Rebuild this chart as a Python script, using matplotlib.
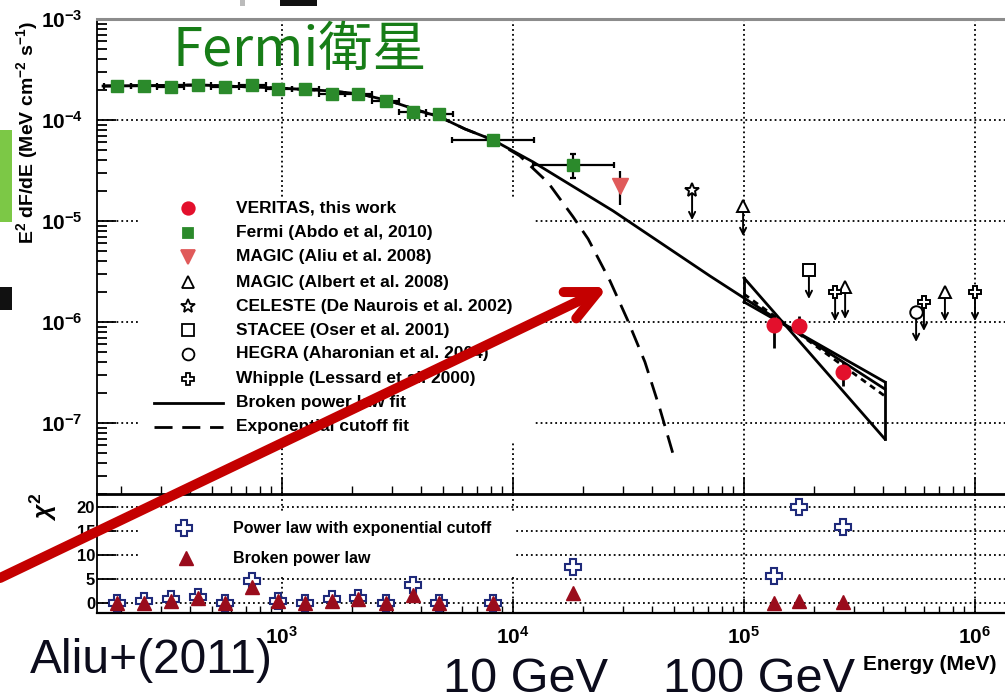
import matplotlib
matplotlib.use('Agg')
import matplotlib.pyplot as plt
from matplotlib.patches import Rectangle, FancyArrowPatch, ArrowStyle
from matplotlib.ticker import LogLocator, NullFormatter, FixedLocator, FixedFormatter

plt.rcParams['font.family'] = ['Liberation Sans', 'DejaVu Sans']
plt.rcParams['font.weight'] = 'bold'
plt.rcParams['mathtext.fontset'] = 'custom'
plt.rcParams['mathtext.rm'] = 'Liberation Sans:bold'
plt.rcParams['mathtext.it'] = 'Liberation Sans:italic:bold'
plt.rcParams['mathtext.bf'] = 'Liberation Sans:bold'

# ---------------- data ----------------
fermi_E = [193, 253, 330, 433, 566, 741, 961, 1259, 1645, 2133, 2818, 3690, 4786, 8190, 18200]
fermi_F = [2.16e-4, 2.16e-4, 2.14e-4, 2.24e-4, 2.12e-4, 2.24e-4, 2.01e-4, 2.03e-4, 1.82e-4, 1.82e-4,
           1.55e-4, 1.19e-4, 1.15e-4, 6.34e-5, 3.58e-5]
fermi_Elo = [169, 221, 289, 378, 495, 649, 849, 1102, 1439, 1875, 2455, 3221, 4207, 5445, 12220]
fermi_Ehi = [221, 289, 378, 495, 649, 849, 1102, 1439, 1875, 2455, 3221, 4207, 5483, 12330, 27350]
fermi_Flo = [2.10e-4, 2.10e-4, 2.08e-4, 2.17e-4, 2.05e-4, 2.17e-4, 1.95e-4, 1.96e-4, 1.76e-4, 1.75e-4,
             1.48e-4, 1.12e-4, 1.08e-4, 5.8e-5, 2.67e-5]
fermi_Fhi = [2.22e-4, 2.22e-4, 2.20e-4, 2.31e-4, 2.19e-4, 2.31e-4, 2.07e-4, 2.10e-4, 1.88e-4, 1.89e-4,
             1.62e-4, 1.26e-4, 1.22e-4, 6.9e-5, 4.6e-5]

ver_E = [1.35e5, 1.73e5, 2.69e5]
ver_F = [9.33e-7, 9.12e-7, 3.20e-7]
ver_Flo = [5.53e-7, 7.9e-7, 2.32e-7]
ver_Fhi = [1.0e-6, 1.15e-6, 4.0e-7]

magic08_E = [29000]
magic08_F = [2.22e-5]
magic08_Flo = [1.44e-5]
magic08_Fhi = [3.13e-5]

celeste_E = [59600]
celeste_F = [2.03e-5]
celeste_Fend = [1.02e-5]

albert_E = [99100, 2.74e5, 7.41e5]
albert_F = [1.41e-5, 2.22e-6, 1.98e-6]
albert_Fend = [7.1e-6, 1.07e-6, 1.02e-6]

stacee_E = [1.91e5]
stacee_F = [3.27e-6]
stacee_Fend = [1.69e-6]

hegra_E = [5.56e5]
hegra_F = [1.26e-6]
hegra_Fend = [6.34e-7]

whipple_E = [2.48e5, 6.01e5, 1.0e6]
whipple_F = [1.98e-6, 1.59e-6, 1.98e-6]
whipple_Fend = [1.02e-6, 8.15e-7, 1.02e-6]

bpl_E = [168, 442, 980, 1615, 2178, 2940, 3954, 4830, 6194, 8190, 12220, 27100, 71300, 4.07e5]
bpl_F = [2.17e-4, 2.22e-4, 2.07e-4, 1.94e-4, 1.81e-4, 1.54e-4, 1.23e-4, 1.07e-4, 8.15e-5, 6.34e-5,
         3.84e-5, 1.26e-5, 2.85e-6, 2.17e-7]

ecpl_E = [168, 442, 980, 1615, 2178, 2940, 3954, 4830, 6194, 8190, 10700, 14190, 18200, 21150, 26300,
          31200, 37250, 43250, 49300]
ecpl_F = [2.17e-4, 2.22e-4, 2.07e-4, 1.94e-4, 1.81e-4, 1.54e-4, 1.23e-4, 1.07e-4, 8.15e-5, 6.34e-5,
          4.41e-5, 2.4e-5, 1.10e-5, 6.64e-6, 2.55e-6, 1.07e-6, 4.02e-7, 1.38e-7, 4.93e-8]

ver_fit_E = [1.0e5, 4.07e5]
ver_fit_F = [1.89e-6, 1.85e-7]
bowtie_A = [2.73e-6, 6.95e-8]
bowtie_B = [1.58e-6, 2.55e-7]

chi_E = fermi_E + ver_E
chi_ecpl = [0.1, 0.5, 0.8, 1.2, 0.1, 4.6, 0.5, 0.1, 0.8, 1.0, 0.1, 3.7, 0.1, 0.1, 7.4, 5.6, 19.9, 15.8]
chi_bpl = [0.0, 0.0, 0.5, 1.0, 0.0, 3.3, 0.5, 0.0, 0.5, 0.8, 0.0, 1.7, 0.1, 0.0, 2.0, 0.0, 0.5, 0.3]

legend_labels = ["VERITAS, this work", "Fermi (Abdo et al, 2010)", "MAGIC (Aliu et al. 2008)",
                 "MAGIC (Albert et al. 2008)", "CELESTE (De Naurois et al. 2002)",
                 "STACEE (Oser et al. 2001)", "HEGRA (Aharonian et al. 2004)",
                 "Whipple (Lessard et al. 2000)", "Broken power law fit", "Exponential cutoff fit"]
chi_labels = ["Power law with exponential cutoff", "Broken power law"]
x_ticks = [1e3, 1e4, 1e5, 1e6]
x_ticklabels = [r'10$^{3}$', r'10$^{4}$', r'10$^{5}$', r'10$^{6}$']
chi_ticks = [0, 5, 10, 15, 20]

# ---------------- colours ----------------
C_FERMI = '#2b8a2b'
C_VER = '#e3102c'
C_MAGIC = '#e05a5a'
C_NAVY = '#1f2a7a'
C_DRED = '#9a0c1c'
C_ARROW = '#c40000'

W, H = 1005, 694
fig = plt.figure(figsize=(W / 100, H / 100), dpi=100)
fig.patch.set_facecolor('white')


def fx(px):
    return px / W


def fy(py):
    return 1 - py / H


# background slide remnants at the left / top
fig.add_artist(Rectangle((fx(0), fy(222)), fx(12), 92 / H, transform=fig.transFigure,
                         facecolor='#7cc846', edgecolor='none', zorder=0))
fig.add_artist(Rectangle((fx(0), fy(310)), fx(12), 23 / H, transform=fig.transFigure,
                         facecolor='#111111', edgecolor='none', zorder=0))
fig.add_artist(Rectangle((fx(280), fy(6)), fx(37), 6 / H, transform=fig.transFigure,
                         facecolor='#111111', edgecolor='none', zorder=0))
fig.add_artist(Rectangle((fx(240), fy(6)), fx(5), 6 / H, transform=fig.transFigure,
                         facecolor='#bbbbbb', edgecolor='none', zorder=0))

x_lo, x_hi = 10 ** 2.2, 10 ** 6.16
px_dec = 231.0
left_px = 282 - 0.8 * px_dec
width_px = 3.96 * px_dec

ax1 = fig.add_axes([fx(left_px), fy(494), width_px / W, 475 / H])
ax2 = fig.add_axes([fx(left_px), fy(613), width_px / W, 119 / H], sharex=ax1)

grid_kw = dict(color='black', linestyle=(0, (1, 1.7)), linewidth=1.3)

for ax in (ax1, ax2):
    ax.set_xscale('log')
    ax.set_xlim(x_lo, x_hi)
    ax.set_axisbelow(True)
    ax.set_facecolor('none')
    ax.spines['right'].set_visible(False)

ax1.set_yscale('log')
ax1.set_ylim(10 ** -7.703, 1e-3)
ax1.grid(True, which='major', **grid_kw)
ax1.spines['top'].set_color('#8c8c8c')
ax1.spines['top'].set_linewidth(2.2)
ax1.spines['bottom'].set_linewidth(2.0)
ax1.spines['left'].set_linewidth(1.3)
ax1.yaxis.set_major_locator(LogLocator(base=10, numticks=20))
ax1.yaxis.set_minor_locator(LogLocator(base=10, subs=range(2, 10), numticks=20))
ax1.yaxis.set_minor_formatter(NullFormatter())
ax1.tick_params(axis='y', which='major', direction='in', length=14, width=1.3, pad=10.5,
                labelsize=15)
ax1.tick_params(axis='y', which='minor', direction='in', length=7, width=1.3)
ax1.tick_params(axis='x', which='major', direction='in', length=12, width=1.2, labelbottom=False)
ax1.tick_params(axis='x', which='minor', direction='in', length=6, width=1.0, labelbottom=False)

ax2.set_ylim(-2.08, 22.71)
ax2.yaxis.set_major_locator(FixedLocator(chi_ticks))
ax2.grid(True, which='major', **grid_kw)
ax2.spines['top'].set_visible(False)
ax2.spines['bottom'].set_linewidth(1.6)
ax2.spines['left'].set_linewidth(1.3)
ax2.tick_params(axis='y', which='major', direction='in', length=14, width=1.3, pad=1.5,
                labelsize=12)
ax2.xaxis.set_major_locator(FixedLocator(x_ticks))
ax2.xaxis.set_major_formatter(FixedFormatter(x_ticklabels))
ax2.xaxis.set_minor_locator(LogLocator(base=10, subs=range(2, 10), numticks=20))
ax2.xaxis.set_minor_formatter(NullFormatter())
ax2.tick_params(axis='x', which='major', direction='in', length=10, width=1.2, pad=9,
                labelsize=15)
ax2.tick_params(axis='x', which='minor', direction='in', length=5, width=1.0)

# legend backgrounds (hide the grid)
ax1.add_patch(Rectangle((fx(140), fy(442)), 393 / W, 245 / H, transform=fig.transFigure,
                        facecolor='white', edgecolor='none', zorder=1))
ax2.add_patch(Rectangle((fx(140), fy(575)), 375 / W, 62 / H, transform=fig.transFigure,
                        facecolor='white', edgecolor='none', zorder=1))

# ---------------- top panel ----------------
ax1.plot(bpl_E, bpl_F, color='black', lw=2.0, zorder=3)
ax1.plot(ecpl_E, ecpl_F, color='black', lw=2.0, dashes=(6.5, 3.5), zorder=3)
ax1.plot(ver_fit_E, ver_fit_F, color='black', lw=2.0, dashes=(2.2, 1.8), zorder=3)
ax1.plot(ver_fit_E, bowtie_A, color='black', lw=2.0, zorder=3)
ax1.plot(ver_fit_E, bowtie_B, color='black', lw=2.0, zorder=3)
for i in (0, 1):
    ax1.plot([ver_fit_E[i], ver_fit_E[i]], [bowtie_A[i], bowtie_B[i]], color='black', lw=2.0, zorder=3)

fx_err = [[f - l for f, l in zip(fermi_E, fermi_Elo)], [h - f for f, h in zip(fermi_E, fermi_Ehi)]]
fy_err = [[f - l for f, l in zip(fermi_F, fermi_Flo)], [h - f for f, h in zip(fermi_F, fermi_Fhi)]]
ax1.errorbar(fermi_E, fermi_F, xerr=fx_err, yerr=fy_err, fmt='none', ecolor='black',
             elinewidth=1.6, capsize=2.5, capthick=1.6, zorder=4)
ax1.plot(fermi_E, fermi_F, 's', color=C_FERMI, ms=8.5, mec=C_FERMI, zorder=5)

vy_err = [[f - l for f, l in zip(ver_F, ver_Flo)], [h - f for f, h in zip(ver_F, ver_Fhi)]]
ax1.errorbar(ver_E, ver_F, yerr=vy_err, fmt='none', ecolor='black', elinewidth=2.0, zorder=4)
ax1.plot(ver_E, ver_F, 'o', color=C_VER, ms=10.5, mec=C_VER, zorder=5)

ax1.vlines(magic08_E, magic08_Flo, magic08_Fhi, color='black', lw=1.6, zorder=4)
ax1.plot(magic08_E, magic08_F, 'v', color=C_MAGIC, ms=11, mec=C_MAGIC, zorder=5)


def upper_limits(E, F, Fend, marker, ms):
    for e, f, fe in zip(E, F, Fend):
        ax1.annotate('', xy=(e, fe), xytext=(e, f),
                     arrowprops=dict(arrowstyle='->', color='black', lw=1.4,
                                     shrinkA=0, shrinkB=0, mutation_scale=11), zorder=4)
    ax1.plot(E, F, marker, ls='none', mfc='white', mec='black', mew=1.4, ms=ms, zorder=5)


upper_limits(celeste_E, celeste_F, celeste_Fend, '*', 10)
upper_limits(albert_E, albert_F, albert_Fend, '^', 9)
upper_limits(stacee_E, stacee_F, stacee_Fend, 's', 9)
upper_limits(hegra_E, hegra_F, hegra_Fend, 'o', 9)
upper_limits(whipple_E, whipple_F, whipple_Fend, 'P', 9)

# manual legend (top)
rows = [208, 233, 257, 282, 306, 330, 354, 379, 403, 427]
mk = [('o', C_VER, C_VER, 9), ('s', C_FERMI, C_FERMI, 7.5), ('v', C_MAGIC, C_MAGIC, 10),
      ('^', 'white', 'black', 8.5), ('*', 'white', 'black', 10), ('s', 'white', 'black', 8.5),
      ('o', 'white', 'black', 8.5), ('P', 'white', 'black', 8.5)]
for i, (m, fc, ec, ms) in enumerate(mk):
    ax1.plot([fx(188)], [fy(rows[i])], m, transform=fig.transFigure, mfc=fc, mec=ec, mew=1.3,
             ms=ms, clip_on=False, zorder=6)
ax1.plot([fx(154), fx(223)], [fy(rows[8])] * 2, color='black', lw=2.0, transform=fig.transFigure,
         clip_on=False, zorder=6)
ax1.plot([fx(154), fx(223)], [fy(rows[9])] * 2, color='black', lw=2.0, dashes=(6.5, 3.5),
         transform=fig.transFigure, clip_on=False, zorder=6)
for i, lab in enumerate(legend_labels):
    fig.text(fx(236), fy(rows[i]), lab, fontsize=12.5, fontweight='bold', ha='left',
             va='center', zorder=6)

# ---------------- chi2 panel ----------------
ax2.plot(chi_E, chi_ecpl, 'P', ls='none', mfc='white', mec=C_NAVY, mew=1.5, ms=11, zorder=4)
ax2.plot(chi_E, chi_bpl, '^', ls='none', color=C_DRED, ms=10, zorder=5)
ax2.plot([fx(184)], [fy(528)], 'P', transform=fig.transFigure, mfc='white', mec=C_NAVY, mew=1.5,
         ms=11, clip_on=False, zorder=6)
ax2.plot([fx(186)], [fy(558)], '^', transform=fig.transFigure, color=C_DRED, ms=10,
         clip_on=False, zorder=6)
fig.text(fx(233), fy(528), chi_labels[0], fontsize=11.5, fontweight='bold', va='center', zorder=6)
fig.text(fx(233), fy(558), chi_labels[1], fontsize=11.5, fontweight='bold', va='center', zorder=6)

# axis labels
fig.text(fx(27), fy(133), r'E$^{2}$ dF/dE (MeV cm$^{-2}$ s$^{-1}$)', rotation=90, fontsize=14,
         fontweight='bold', ha='center', va='center')
fig.text(fx(43), fy(507), r'$\chi^{2}$', rotation=90, fontsize=18, ha='center', va='center')
fig.text(fx(863), fy(665), 'Energy (MeV)', fontsize=15, fontweight='bold', ha='left', va='center')

# overlay annotations
fig.text(fx(172), fy(50), 'Fermi衛星', fontsize=39, color='#177d17', fontweight='normal',
         family=['Noto Sans CJK JP', 'DejaVu Sans'], ha='left', va='center')
fig.text(fx(30), fy(673), 'Aliu+(2011)', fontsize=34.5, color='#0c0c1c', fontweight='normal',
         ha='left', va='baseline')
fig.text(fx(443), fy(692), '10 GeV', fontsize=35, color='#0c0c1c', fontweight='normal',
         ha='left', va='baseline')
fig.text(fx(663), fy(692), '100 GeV', fontsize=35, color='#0c0c1c', fontweight='normal',
         ha='left', va='baseline')

arrow = FancyArrowPatch((fx(0), fy(578)), (fx(608), fy(287)), transform=fig.transFigure,
                        arrowstyle=ArrowStyle('->', head_length=22, head_width=10.5),
                        color=C_ARROW, lw=7.2, mutation_scale=1, shrinkA=0, shrinkB=0,
                        capstyle='round', joinstyle='round', zorder=10)
fig.add_artist(arrow)

fig.savefig('out.png', dpi=100, facecolor='white')
